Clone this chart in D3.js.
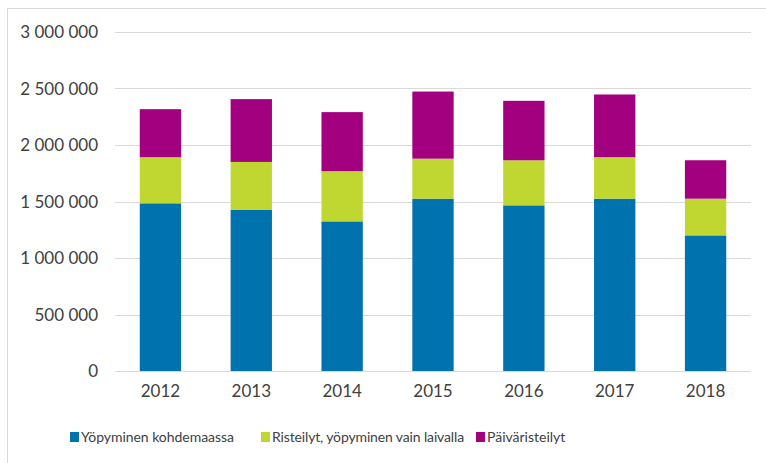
<!DOCTYPE html>
<html>
<head>
<meta charset="utf-8">
<script src="https://cdn.jsdelivr.net/npm/d3@7"></script>
<style>
  body { margin: 0; background: #fff; }
  svg { display: block; font-family: Lato, "Open Sans", sans-serif; }
</style>
</head>
<body>
<svg id="chart" width="766" height="463"></svg>
<script>
// data
let years = ["2012", "2013", "2014", "2015", "2016", "2017", "2018"];
let seriesNames = ["Yöpyminen kohdemaassa", "Risteilyt, yöpyminen vain laivalla", "Päiväristeilyt"];
let destination = [1484000, 1425000, 1324000, 1525000, 1466000, 1525000, 1200000];
let shipOnly = [408000, 425000, 444000, 354000, 399000, 367000, 325000];
let dayCruises = [425000, 556000, 523000, 594000, 526000, 555000, 340000];
let yTicks = [0, 500000, 1000000, 1500000, 2000000, 2500000, 3000000];

let colors = ["#0072AE", "#BFD730", "#A3007F"];

let svg = d3.select("#chart");

// outer frame (cropped at right and bottom)
svg.append("rect")
  .attr("x", 7.5).attr("y", 8.5)
  .attr("width", 800).attr("height", 500)
  .attr("fill", "none")
  .attr("stroke", "#d9d9d9");

let plotLeft = 115, plotRight = 751, plotTop = 32, plotBottom = 371;

let x = d3.scaleBand().domain(years).range([plotLeft, plotRight]).paddingInner(0.545).paddingOuter(0.2725);
let y = d3.scaleLinear().domain([0, 3000000]).range([plotBottom, plotTop]);

// gridlines
svg.append("g")
  .selectAll("line")
  .data(yTicks)
  .enter()
  .append("line")
  .attr("x1", plotLeft).attr("x2", plotRight)
  .attr("y1", function(d) { return Math.round(y(d)) + 0.5; })
  .attr("y2", function(d) { return Math.round(y(d)) + 0.5; })
  .attr("stroke", "#d9d9d9");

// y tick labels
let fmt = function(d) { return d3.format(",")(d).replace(/,/g, " "); };
svg.append("g")
  .selectAll("text")
  .data(yTicks)
  .enter()
  .append("text")
  .attr("x", 98)
  .attr("y", function(d) { return y(d); })
  .attr("dy", "0.36em")
  .attr("text-anchor", "end")
  .attr("font-size", 17)
  .attr("fill", "#404040")
  .text(fmt);

// stacked bars
let rows = years.map(function(yr, i) {
  return { year: yr, s0: destination[i], s1: shipOnly[i], s2: dayCruises[i] };
});
let stack = d3.stack().keys(["s0", "s1", "s2"]);
let layers = stack(rows);

svg.append("g")
  .selectAll("g")
  .data(layers)
  .enter()
  .append("g")
  .attr("fill", function(d, i) { return colors[i]; })
  .selectAll("rect")
  .data(function(d) { return d; })
  .enter()
  .append("rect")
  .attr("x", function(d) { return x(d.data.year); })
  .attr("y", function(d) { return y(d[1]); })
  .attr("width", x.bandwidth())
  .attr("height", function(d) { return y(d[0]) - y(d[1]); });

// x labels
let xAxis = d3.axisBottom(x).tickSize(0).tickPadding(14);
let gx = svg.append("g")
  .attr("transform", "translate(0," + plotBottom + ")")
  .call(xAxis);
gx.select(".domain").remove();
gx.selectAll("text")
  .attr("font-size", 17)
  .attr("font-family", "Lato, sans-serif")
  .attr("fill", "#404040");

// legend
let legendX = [70, 261, 476];
let legendW = [153, 192, 80];
let legend = svg.append("g")
  .selectAll("g")
  .data(seriesNames)
  .enter()
  .append("g")
  .attr("transform", function(d, i) { return "translate(" + legendX[i] + ",432)"; });

legend.append("rect")
  .attr("width", 9).attr("height", 10)
  .attr("fill", function(d, i) { return colors[i]; });

legend.append("text")
  .attr("x", 11)
  .attr("y", 5)
  .attr("dy", "0.36em")
  .attr("font-size", 14)
  .attr("fill", "#404040")
  .text(function(d) { return d; })
  .each(function(d, i) {
    // tighten letters a bit when the text runs wider than in the picture
    let len = this.getComputedTextLength();
    let ls = Math.min(0, (legendW[i] - len) / d.length);
    d3.select(this).attr("letter-spacing", ls.toFixed(2));
  });
</script>
</body>
</html>
